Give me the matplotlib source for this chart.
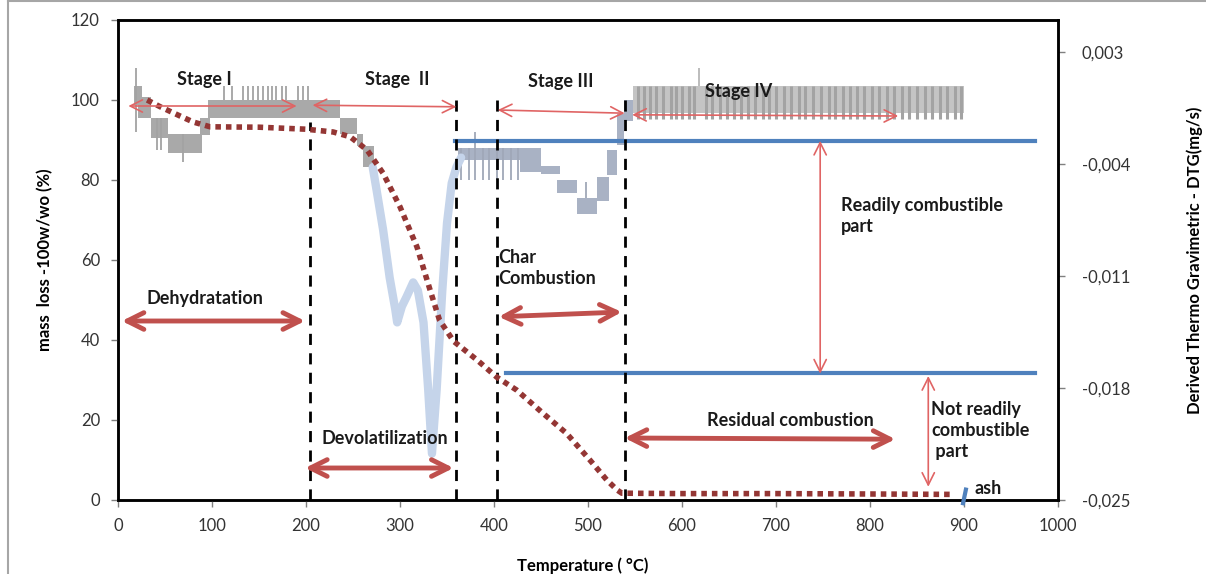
import matplotlib
matplotlib.use('Agg')
import matplotlib.pyplot as plt
from matplotlib.lines import Line2D

plt.rcParams['font.family'] = ['Lato', 'DejaVu Sans']

# ---- data ----
# mass loss (left axis, %)
mass_t = [31, 45, 66, 80, 98, 150, 200, 229, 247, 265, 282, 300, 318, 332, 342,
          357, 382, 403, 424, 452, 477, 502, 520, 531, 536, 600, 700, 800, 890]
mass_v = [100, 98.3, 96, 94.5, 93.3, 93.2, 92.7, 92, 90.8, 87.5, 81.7, 73.3, 63.3, 52.5, 45,
          39.7, 35, 30.7, 27.5, 21.7, 16.7, 10, 5, 2.5, 1.7, 1.6, 1.6, 1.5, 1.4]

# DTG noisy signal (right axis, mg/s) as blocks: start, end, low, high
blk_t0 = [17, 21, 35, 53, 87, 96, 236, 254, 261,
          362, 428, 450, 467, 488, 510, 520, 531, 538, 548]
blk_t1 = [25, 35, 53, 89, 98, 236, 254, 261, 272,
          428, 450, 470, 488, 510, 522, 531, 538, 548, 900]
blk_lo = [-0.0003, -0.0011, -0.0024, -0.0033, -0.0022, -0.0011, -0.0021, -0.0029, -0.0042,
          -0.00375, -0.0045, -0.0046, -0.0058, -0.0071, -0.0063, -0.0047, -0.0028, -0.0013, -0.0008]
blk_hi = [0.0009, 0.0002, -0.0011, -0.0021, -0.0011, 0.0, -0.0011, -0.0021, -0.0029,
          -0.0030, -0.0030, -0.0041, -0.0050, -0.0061, -0.0048, -0.0031, -0.0009, 0.0, 0.0009]

# DTG spikes: temperature, low, high
spk_t = [19, 41, 46, 69, 113, 121, 133, 138, 144, 149, 154, 160, 164, 168, 174, 179, 191, 197, 202,
         365, 373, 380, 388, 395, 403, 410, 418, 425, 498,
         553, 560, 566, 572, 580, 588, 594, 600, 607, 613, 625, 632, 640, 648, 655, 663, 670,
         678, 686, 693, 700, 708, 716, 724, 731, 739, 748, 756, 763, 771, 779, 786, 794,
         802, 810, 818, 826, 834, 842, 850, 858, 866, 874, 882, 890, 897]
spk_lo = [-0.002, -0.0031, -0.0031, -0.0039] + [0.0] * 15 + [-0.005] * 9 + [-0.0061] + [-0.0012] * 46
spk_hi = [0.002, -0.0011, -0.0011, -0.0021] + [0.0009] * 15 + [-0.003, -0.003, -0.002] + [-0.003] * 6 + [-0.0051] + [0.0009] * 46

# DTG main devolatilization peak
dip_t = [271, 275, 282, 289, 295, 297, 302, 307, 314, 319, 325, 330, 334, 339, 345, 350, 355, 360, 365]
dip_v = [-0.0042, -0.0056, -0.0081, -0.0111, -0.0131, -0.0139, -0.0129, -0.0123, -0.0114, -0.0119,
         -0.0139, -0.0181, -0.0221, -0.0181, -0.0119, -0.0077, -0.0052, -0.0042, -0.0036]
spike_618 = (618, 0.0009, 0.002)

# combustibility limits (left axis)
lim_t0 = [358, 413]
lim_t1 = [975, 976]
lim_v = [89.8, 31.7]

# stage boundaries
bound_t = [204, 360, 403, 539]
bound_top = [94.5, 100, 100, 100]

# thin arrows: x0, y0, x1, y1
thin_x0 = [11, 207, 404, 547, 747, 862]
thin_y0 = [98.5, 98.7, 97.5, 96.3, 89.8, 31.0]
thin_x1 = [190, 360, 539, 830, 747, 862]
thin_y1 = [98.5, 98.3, 96.7, 96.0, 31.6, 3.3]

# thick arrows
thick_x0 = [4, 199, 405, 539]
thick_y0 = [44.75, 8, 45.8, 15.5]
thick_x1 = [199, 357, 536, 827]
thick_y1 = [44.75, 8, 47, 15.2]

labels = ['Stage I', 'Stage  II', 'Stage III', 'Stage IV', 'Dehydratation', 'Devolatilization',
          'Residual combustion']
label_x = [92, 297, 471, 660, 92, 284, 715]
label_y = [105, 105, 104.5, 102, 50.3, 15.3, 20]

notes = ['Char\nCombustion', 'Readily combustible\npart', 'Not readily\ncombustible\n part', 'ash']
note_x = [404, 769, 865, 911]
note_y = [58, 71.1, 17.3, 3]

right_ticks = [-0.025, -0.018, -0.011, -0.004, 0.003]
right_labels = ['-0,025', '-0,018', '-0,011', '-0,004', '0,003']

# ---- figure ----
fig = plt.figure(figsize=(12.06, 5.74), dpi=100)
ax = fig.add_axes([118 / 1206, 74 / 574, 940 / 1206, 480 / 574])
ax2 = ax.twinx()
ax.set_zorder(ax2.get_zorder() + 1)
ax.patch.set_visible(False)

ax.set_xlim(0, 1000)
ax.set_ylim(0, 120)
ax2.set_ylim(-0.025, 0.005)

# DTG
for t0, t1, lo, hi in zip(blk_t0, blk_t1, blk_lo, blk_hi):
    if t0 < 300:
        c = '#A9A9A9'
    elif t0 < 540:
        c = '#A9B2C4'
    else:
        c = '#C4C4C4'
    ax2.fill_between([t0, t1], [lo, lo], [hi, hi], color=c, lw=0)
for t, lo, hi in zip(spk_t, spk_lo, spk_hi):
    c = '#A0A8B8' if 300 < t < 540 else '#A3A3A3'
    ax2.vlines(t, lo, hi, color=c, lw=2.2 if t > 540 else 1.3)
ax2.vlines(spike_618[0], spike_618[1], spike_618[2], color='#B0B0B0', lw=1.2)
ax2.plot(dip_t, dip_v, color='#C5D4EA', lw=6, solid_joinstyle='round', solid_capstyle='round')

# limits
for t0, t1, v in zip(lim_t0, lim_t1, lim_v):
    ax.plot([t0, t1], [v, v], color='#4F81BD', lw=3, zorder=3)
ax.plot([899, 902], [-0.8, 2.6], color='#4F81BD', lw=3, clip_on=False, zorder=3)

# stage boundaries
for t, top in zip(bound_t, bound_top):
    ax.plot([t, t], [0, top], color='black', lw=2, dashes=(4, 3), zorder=4)

# mass loss curve
ax.plot(mass_t, mass_v, color='#943634', lw=4, dashes=(1, 0.9), zorder=5)

# arrows
for x0, y0, x1, y1 in zip(thin_x0, thin_y0, thin_x1, thin_y1):
    ax.annotate('', xy=(x1, y1), xytext=(x0, y0),
                arrowprops=dict(arrowstyle='<->', color='#E06464', lw=1.2,
                                mutation_scale=22, shrinkA=0, shrinkB=0), zorder=6)
for x0, y0, x1, y1 in zip(thick_x0, thick_y0, thick_x1, thick_y1):
    ax.annotate('', xy=(x1, y1), xytext=(x0, y0),
                arrowprops=dict(arrowstyle='<->', color='#C0504D', lw=3.5,
                                mutation_scale=30, shrinkA=0, shrinkB=0), zorder=6)

for s, x, y in zip(labels, label_x, label_y):
    ax.text(x, y, s, ha='center', va='center', fontsize=13, fontweight='bold',
            color='#1a1a1a', zorder=7)
for s, x, y in zip(notes, note_x, note_y):
    ax.text(x, y, s, ha='left', va='center', fontsize=13, fontweight='bold',
            color='#1a1a1a', linespacing=1.3, zorder=7)

# axes styling
ax.set_xticks(range(0, 1001, 100))
ax.set_yticks(range(0, 121, 20))
ax2.set_yticks(right_ticks)
ax2.set_yticklabels(right_labels)
for a in (ax, ax2):
    for sp in a.spines.values():
        sp.set_linewidth(1.8)
        sp.set_color('black')
    a.tick_params(direction='out', length=5, width=1, color='#808080',
                  labelsize=12, labelcolor='#333333')
ax.tick_params(axis='y', pad=8)
ax.tick_params(axis='x', pad=8)
ax2.tick_params(axis='y', pad=12)

ax.set_xlabel('Temperature ( °C)', fontsize=12, fontweight='bold')
ax.set_ylabel('mass  loss -100w/wo (%)', fontsize=12, fontweight='bold')
ax2.set_ylabel('Derived Thermo Gravimetric - DTG(mg/s)', fontsize=12, fontweight='bold')
ax.xaxis.set_label_coords(0.494, -0.119)
ax.yaxis.set_label_coords(-0.069, 0.5)
ax2.yaxis.set_label_coords(1.137, 0.5)

# outer frame of the picture
fig.add_artist(Line2D([8 / 1206, 8 / 1206], [0, 1], color='#A6A6A6', lw=1.5))
fig.add_artist(Line2D([8 / 1206, 1], [0.998, 0.998], color='#A6A6A6', lw=1.5))

fig.savefig('out.png', dpi=100)
